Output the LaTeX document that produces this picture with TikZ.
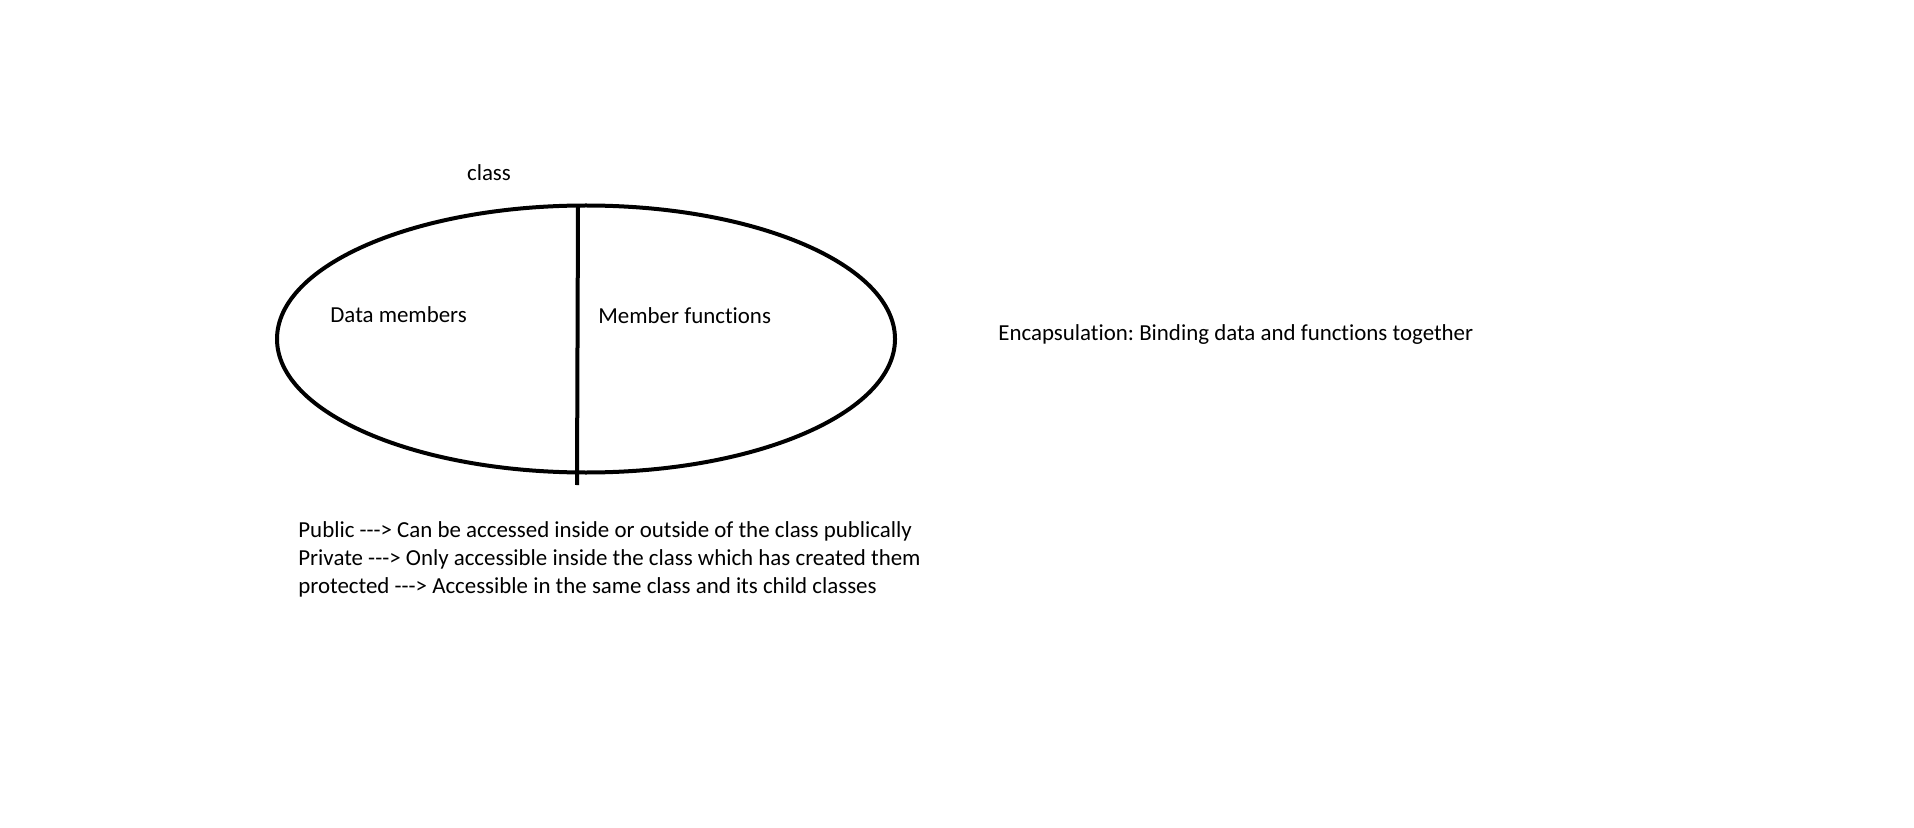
\documentclass[tikz,border=0pt]{standalone}
\usepackage{fontspec}
\setmainfont{Carlito}[Ligatures={NoCommon}]
\usetikzlibrary{shapes.geometric}
\frenchspacing
\begin{document}
\begin{tikzpicture}[x=0.5pt,y=-0.5pt,
  lbl/.style={inner sep=0pt, font=\fontsize{11.45}{14}\selectfont, text=black},
  shape outline/.style={draw=black, line width=2pt}]
\useasboundingbox[fill=white] (0,0) rectangle (1914,828);
\node[ellipse, shape outline, minimum width=309pt, minimum height=133.5pt, inner sep=0pt] (cls) at (586,339) {};
\coordinate (lt) at (578,205);
\coordinate (lb) at (577,485);
\draw[line width=2pt] (lt) -- (lb);
\node[lbl] (classlbl) at (489,173) {class};
\node[lbl, anchor=west] (data) at (330,315) {Data members};
\node[lbl, anchor=west] (func) at (598,316) {Member functions};
\node[lbl, anchor=west] (enc) at (998,335) {Encapsulation: Binding data and functions together};
\node[lbl, anchor=west, align=left] (access) at (298,559) {Public -{}-{}-> Can be accessed inside or outside of the class publically\\Private -{}-{}-> Only accessible inside the class which has created them\\protected -{}-{}-> Accessible in the same class and its child classes};
\end{tikzpicture}
\end{document}
